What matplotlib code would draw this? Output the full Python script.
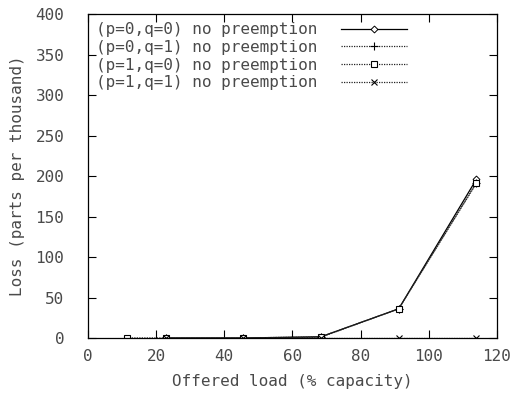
import matplotlib
matplotlib.use("Agg")
import matplotlib.pyplot as plt

# offered load (% capacity) and loss (parts per thousand)
load_a = [22.8, 45.6, 68.4, 91.2, 114.0]
load_b = [11.4, 22.8, 45.6, 68.4, 91.2, 114.0]

loss_p0q0 = [0, 0, 1.5, 36, 196]
loss_p0q1 = [0, 0, 1.5, 36, 192]
loss_p1q0 = [0, 0, 0, 1.0, 36, 191]
loss_p1q1 = [0, 0, 0, 0, 0]

labels = [
    "(p=0,q=0) no preemption",
    "(p=0,q=1) no preemption",
    "(p=1,q=0) no preemption",
    "(p=1,q=1) no preemption",
]

plt.rcParams["font.family"] = "DejaVu Sans Mono"
plt.rcParams["font.size"] = 11.5
txt = "#4a4a4a"

fig = plt.figure(figsize=(5.17, 3.93), dpi=100)
ax = fig.add_axes([0.170, 0.140, 0.791, 0.824])

ax.plot(load_a, loss_p0q0, color="black", lw=0.9, marker="D", ms=3.5,
        mfc="white", mec="black", mew=0.7, label=labels[0])
ax.plot(load_a, loss_p0q1, color="#222222", lw=0.9, ls=(0, (1, 1)), marker="+",
        ms=6, mec="black", mew=0.8, label=labels[1])
ax.plot(load_b, loss_p1q0, color="#222222", lw=0.9, ls=(0, (1, 1)), marker="s",
        ms=4.5, mfc="white", mec="black", mew=0.8, label=labels[2])
ax.plot(load_a, loss_p1q1, color="#222222", lw=0.9, ls=(0, (1, 1)), marker="x",
        ms=5, mec="black", mew=0.8, label=labels[3])

ax.set_xlim(0, 120)
ax.set_ylim(0, 400)
ax.set_xticks(range(0, 121, 20))
ax.set_yticks(range(0, 401, 50))
ax.tick_params(direction="in", length=6, width=0.8, top=True, right=True,
               colors="black", labelcolor=txt)
ax.tick_params(axis="y", pad=17)
ax.tick_params(axis="x", pad=8)
for s in ax.spines.values():
    s.set_linewidth(0.9)

ax.set_xlabel("Offered load (% capacity)", color=txt, labelpad=7)
ax.set_ylabel("Loss (parts per thousand)", color=txt, va="center")
ax.yaxis.set_label_coords(-0.172, 0.5)

leg = ax.legend(loc="upper left", markerfirst=False, frameon=False,
                handlelength=4.1, borderaxespad=0.3, labelspacing=0.17,
                handletextpad=1.5, borderpad=0.2)
for t in leg.get_texts():
    t.set_color(txt)

fig.savefig("out.png", dpi=100)
